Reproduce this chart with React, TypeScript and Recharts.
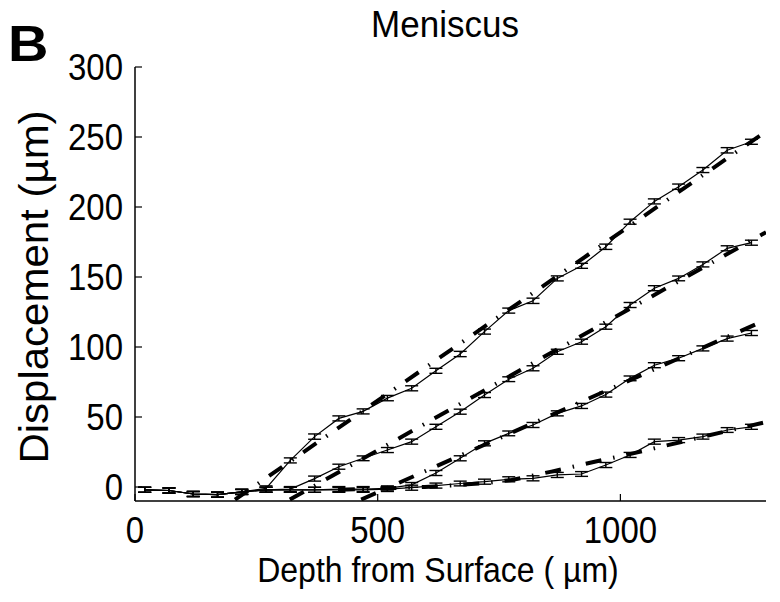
import React from 'react';
import { LineChart, Line, XAxis, YAxis, ErrorBar } from 'recharts';

// Depth from surface (µm) of the measured points
const depths = [20, 70, 120, 170, 220, 270, 320, 370, 420, 470, 520, 570, 620, 670, 720, 770, 820, 870, 920, 970, 1020, 1070, 1120, 1170, 1220, 1270];

// Measured displacement (µm) for the four loading steps
const curve1 = [-2, -2.5, -5, -5.5, -3.5, -1, 19, 36, 49, 54, 63.5, 70.5, 83, 95, 111, 126, 133, 149, 158, 171.6, 189.5, 204, 214.5, 226.4, 240.5, 246.6];
const curve2 = [-2, -2.5, -5, -5.5, -3.5, -2, -1.5, 6, 14.5, 20.5, 26.4, 32.4, 43, 53.8, 65.7, 77, 84.8, 96.6, 103.8, 114.5, 130, 142, 149, 159, 170.5, 174.5];
const curve3 = [-2, -2.5, -5, -5.5, -3.5, -2, -2, -2, -1.5, -1.5, -1, 1.5, 10, 20.5, 31.2, 38.3, 44.3, 52.6, 57.9, 66, 77.6, 87, 92, 99, 106, 110];
const curve4 = [-2, -2.5, -5, -5.5, -3.5, -2, -2, -2, -2, -2, -1.5, -0.5, 1, 2.5, 3.8, 5.5, 6.2, 8.6, 9.3, 15.7, 22.9, 32.4, 33.5, 36, 40.7, 43];

// Error bar half-lengths (µm)
const err1 = [1.8, 1.8, 1.8, 1.8, 1.8, 1.8, 1.8, 1.9, 1.8, 1.8, 1.9, 1.8, 1.8, 1.9, 1.8, 1.8, 1.9, 1.8, 1.8, 1.9, 1.8, 1.8, 1.9, 1.8, 1.9, 1.8];
const err2 = [1.8, 1.8, 1.8, 1.8, 1.8, 1.8, 1.8, 1.8, 1.8, 1.7, 1.8, 1.8, 1.8, 1.8, 1.8, 1.7, 1.8, 1.8, 1.8, 1.8, 1.8, 1.8, 1.7, 1.8, 1.8, 1.8];
const err3 = [1.8, 1.8, 1.8, 1.8, 1.8, 1.8, 1.8, 1.8, 1.8, 1.8, 1.8, 1.7, 1.8, 1.8, 1.8, 1.7, 1.8, 1.8, 1.8, 1.8, 1.7, 1.8, 1.8, 1.8, 1.8, 1.8];
const err4 = [1.8, 1.8, 1.8, 1.8, 1.8, 1.8, 1.8, 1.8, 1.8, 1.8, 1.7, 1.8, 1.8, 1.7, 1.8, 1.8, 1.8, 1.8, 1.7, 1.8, 1.8, 1.8, 1.8, 1.8, 1.7, 1.8];

// Model predictions (dash-dot lines)
const model1Depth = [206, 1300];
const model1Disp = [-9, 254];
const model2Depth = [319, 1300];
const model2Disp = [-9, 182];
const model3Depth = [466, 1300];
const model3Disp = [-9, 119.5];
const model4Depth = [420, 597, 663, 724, 776, 858, 947, 1026, 1214, 1300];
const model4Disp = [-2, 0, 1.4, 2.9, 5, 11, 18, 24, 39.5, 46.4];

const xTicks = [0, 500, 1000];
const yTicks = [0, 50, 100, 150, 200, 250, 300];

const rows = depths.map((d, i) => ({
  x: d,
  s1: curve1[i], e1: err1[i],
  s2: curve2[i], e2: err2[i],
  s3: curve3[i], e3: err3[i],
  s4: curve4[i], e4: err4[i],
}));

const toModel = (xs: number[], ys: number[]) => xs.map((x, i) => ({ x, y: ys[i] }));
const models = [
  toModel(model1Depth, model1Disp),
  toModel(model2Depth, model2Disp),
  toModel(model3Depth, model3Disp),
  toModel(model4Depth, model4Disp),
];

const FONT = '"Liberation Sans", Arial, Helvetica, sans-serif';

const YTick = (props: any) => {
  const { x, y, payload } = props;
  return (
    <text
      x={0}
      y={0}
      textAnchor="end"
      fontSize={33}
      fontFamily={FONT}
      fill="#000"
      transform={`translate(${x},${y + 13}) scale(1,1.12)`}
    >
      {payload.value}
    </text>
  );
};

const XTick = (props: any) => {
  const { x, y, payload } = props;
  return (
    <text
      x={0}
      y={0}
      textAnchor="middle"
      fontSize={33}
      fontFamily={FONT}
      fill="#000"
      transform={`translate(${x},${y}) scale(1,1.12)`}
    >
      {payload.value}
    </text>
  );
};

export default function App() {
  const series = [
    { k: 's1', e: 'e1' },
    { k: 's2', e: 'e2' },
    { k: 's3', e: 'e3' },
    { k: 's4', e: 'e4' },
  ];
  return (
    <div style={{ position: 'absolute', left: 0, top: 0, width: 780, height: 602, background: '#fff' }}>
      <LineChart
        width={780}
        height={602}
        data={rows}
        margin={{ top: 67, right: 14, bottom: 0, left: 0 }}
      >
        <XAxis
          dataKey="x"
          type="number"
          domain={[0, 1300]}
          ticks={xTicks}
          allowDataOverflow
          height={101}
          tickSize={-7}
          tickMargin={49}
          tick={<XTick />}
          axisLine={{ stroke: '#000', strokeWidth: 1.5 }}
          tickLine={{ stroke: '#000', strokeWidth: 1.2 }}
        />
        <XAxis
          xAxisId="top"
          orientation="top"
          dataKey="x"
          type="number"
          domain={[0, 1300]}
          ticks={xTicks}
          allowDataOverflow
          height={0}
          tickSize={-7}
          tick={false}
          axisLine={{ stroke: '#000', strokeWidth: 1.5 }}
          tickLine={{ stroke: '#000', strokeWidth: 1.2 }}
        />
        <YAxis
          type="number"
          domain={[-10, 300]}
          ticks={yTicks}
          allowDataOverflow
          width={135}
          tickSize={-7}
          tickMargin={19}
          tick={<YTick />}
          axisLine={{ stroke: '#000', strokeWidth: 1.5 }}
          tickLine={{ stroke: '#000', strokeWidth: 1.2 }}
        />
        <YAxis
          yAxisId="r"
          orientation="right"
          type="number"
          domain={[-10, 300]}
          ticks={yTicks}
          allowDataOverflow
          width={0}
          tickSize={-7}
          tick={false}
          axisLine={{ stroke: '#000', strokeWidth: 1.5 }}
          tickLine={{ stroke: '#000', strokeWidth: 1.2 }}
        />
        {series.map((s) => (
          <Line
            key={s.k}
            dataKey={s.k}
            stroke="#000"
            strokeWidth={1.2}
            dot={false}
            activeDot={false}
            isAnimationActive={false}
          >
            <ErrorBar dataKey={s.e} width={6.5} stroke="#000" strokeWidth={1.4} direction="y" isAnimationActive={false} />
          </Line>
        ))}
        {models.map((m, i) => (
          <Line
            key={'m' + i}
            data={m}
            dataKey="y"
            stroke="#000"
            strokeWidth={4}
            strokeDasharray="16 12 1.5 12"
            dot={false}
            activeDot={false}
            isAnimationActive={false}
          />
        ))}
      </LineChart>
      <svg
        width={780}
        height={602}
        style={{ position: 'absolute', left: 0, top: 0, pointerEvents: 'none' }}
      >
        <text x={0} y={0} fontSize={50} fontWeight="bold" fontFamily={FONT} fill="#000" transform="translate(8,61) scale(1.12,1)">
          B
        </text>
        <text x={0} y={0} textAnchor="middle" fontSize={35} fontFamily={FONT} fill="#000" transform="translate(445,37) scale(1,1.05)">
          Meniscus
        </text>
        <text x={0} y={0} textAnchor="middle" fontSize={32} fontFamily={FONT} fill="#000" transform="translate(438,582) scale(1,1.08)">
          Depth from Surface ( µm)
        </text>
        <text
          x={0}
          y={0}
          textAnchor="middle"
          fontSize={40}
          fontFamily={FONT}
          fill="#000"
          transform="translate(48,287) rotate(-90) scale(1.05,1)"
        >
          Displacement (µm)
        </text>
      </svg>
    </div>
  );
}
